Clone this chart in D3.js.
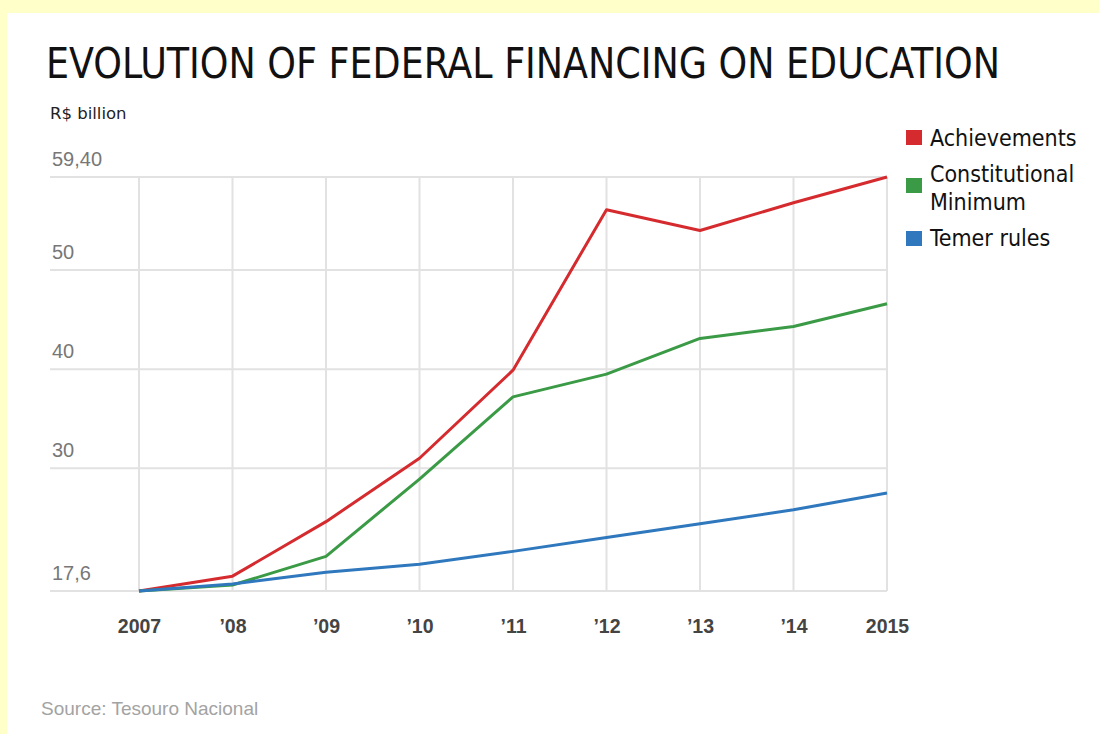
<!DOCTYPE html>
<html>
<head>
<meta charset="utf-8">
<script src="https://cdn.jsdelivr.net/npm/d3@7"></script>
<style>
html,body{margin:0;padding:0;background:#ffffc9;}
svg{display:block;}
</style>
</head>
<body>
<script>
const years = ["2007","’08","’09","’10","’11","’12","’13","’14","2015"];
const achievements = [17.6, 19.1, 24.6, 31.0, 39.9, 56.1, 54.0, 56.8, 59.4];
const constitutionalMinimum = [17.6, 18.2, 21.1, 28.9, 37.2, 39.5, 43.1, 44.3, 46.6];
const temerRules = [17.6, 18.3, 19.5, 20.3, 21.6, 23.0, 24.4, 25.8, 27.5];
const yTicks = [17.6, 30, 40, 50, 59.4];
const yTickLabels = ["17,6", "30", "40", "50", "59,40"];
const seriesNames = ["Achievements", "Constitutional Minimum", "Temer rules"];
const seriesColors = ["#d52b2f", "#3a9a45", "#2f78bd"];
const seriesData = [achievements, constitutionalMinimum, temerRules];

const W = 1099, H = 734;
const svg = d3.select("body").append("svg").attr("width", W).attr("height", H);

svg.append("rect").attr("x", 7).attr("y", 13).attr("width", W - 7).attr("height", H - 13).attr("fill", "#ffffff");

const x = d3.scalePoint().domain(years).range([139, 887]);
const y = d3.scaleLinear().domain([17.6, 59.4]).range([591, 177]);

// title
svg.append("text").attr("x", 46).attr("y", 78)
  .attr("font-family", "'DejaVu Sans Condensed', 'DejaVu Sans', sans-serif")
  .attr("font-size", 42).attr("fill", "#111")
  .attr("textLength", 954).attr("lengthAdjust", "spacingAndGlyphs")
  .text("EVOLUTION OF FEDERAL FINANCING ON EDUCATION");

svg.append("text").attr("x", 50).attr("y", 119)
  .attr("font-family", "'DejaVu Sans', sans-serif")
  .attr("font-size", 16.5).attr("fill", "#222")
  .text("R$ billion");

// horizontal grid
const gY = svg.append("g");
gY.selectAll("line").data(yTicks).join("line")
  .attr("x1", 50).attr("x2", 887)
  .attr("y1", d => y(d)).attr("y2", d => y(d))
  .attr("stroke", "#e2e2e2").attr("stroke-width", 2);
gY.selectAll("text").data(yTicks).join("text")
  .attr("x", 52).attr("y", d => y(d) - 11)
  .attr("font-family", "'Liberation Sans', Arial, sans-serif")
  .attr("font-size", 20).attr("fill", "#777")
  .text((d, i) => yTickLabels[i]);

// vertical grid
svg.append("g").selectAll("line").data(years).join("line")
  .attr("x1", d => x(d)).attr("x2", d => x(d))
  .attr("y1", y(59.4)).attr("y2", y(17.6))
  .attr("stroke", "#e2e2e2").attr("stroke-width", 2);

// x axis labels
const xAxis = d3.axisBottom(x).tickSize(0).tickPadding(0);
const gx = svg.append("g").attr("transform", "translate(0,633)").call(xAxis);
gx.select(".domain").remove();
gx.selectAll("text").attr("dy", 0)
  .attr("font-family", "'Liberation Sans', Arial, sans-serif")
  .attr("font-size", 19.5).attr("font-weight", "bold").attr("fill", "#444");

// lines
const line = d3.line().x((d, i) => x(years[i])).y(d => y(d));
svg.append("g").selectAll("path").data(seriesData).join("path")
  .attr("d", d => line(d))
  .attr("fill", "none")
  .attr("stroke", (d, i) => seriesColors[i])
  .attr("stroke-width", 3)
  .attr("stroke-linejoin", "round");

// legend
const legendFont = "'DejaVu Sans Condensed', 'DejaVu Sans', sans-serif";
const leg = svg.append("g");
const legItems = [
  {sq: 130, lines: ["Achievements"], ty: [146]},
  {sq: 178, lines: ["Constitutional", "Minimum"], ty: [182, 210]},
  {sq: 231, lines: ["Temer rules"], ty: [246]}
];
legItems.forEach((it, i) => {
  leg.append("rect").attr("x", 906).attr("y", it.sq).attr("width", 16).attr("height", 15)
    .attr("fill", seriesColors[i]);
  const t = leg.append("text").attr("font-family", legendFont).attr("font-size", 23).attr("fill", "#111");
  it.lines.forEach((l, j) => {
    t.append("tspan").attr("x", 930).attr("y", it.ty[j]).text(l);
  });
});

// source
svg.append("text").attr("x", 41).attr("y", 715)
  .attr("font-family", "'Liberation Sans', Arial, sans-serif")
  .attr("font-size", 19).attr("fill", "#a3a3a3")
  .text("Source: Tesouro Nacional");
</script>
</body>
</html>
